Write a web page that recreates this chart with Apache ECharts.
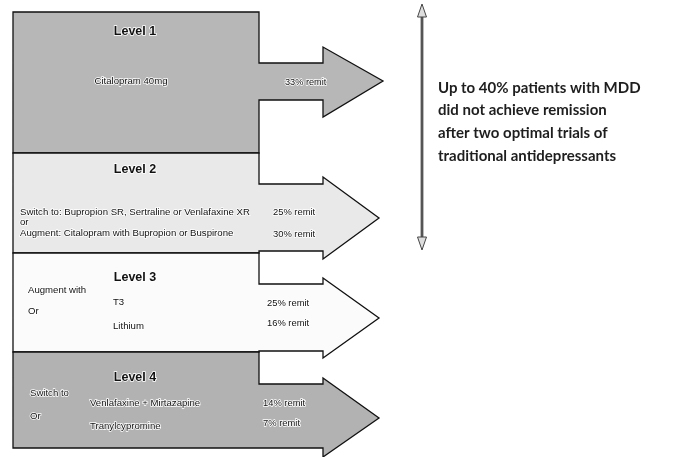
<!DOCTYPE html>
<html><head><meta charset="utf-8">
<script src="https://cdn.jsdelivr.net/npm/echarts@6/dist/echarts.min.js"></script>
<style>html,body{margin:0;padding:0;background:#fff}#c{width:682px;height:457px}</style>
</head><body><div id="c"></div>
<script>
// ---- data ----
const levels = ['Level 1', 'Level 2', 'Level 3', 'Level 4'];
const strategies = ['', '', 'Augment with', 'Switch to'];
const level1Treatments = ['Citalopram 40mg'];
const level2Treatments = ['Switch to: Bupropion SR, Sertraline or Venlafaxine XR', 'Augment: Citalopram with Bupropion or Buspirone'];
const level3Treatments = ['T3', 'Lithium'];
const level4Treatments = ['Venlafaxine + Mirtazapine', 'Tranylcypromine'];
const level1Remit = [33];
const level2Remit = [25, 30];
const level3Remit = [25, 16];
const level4Remit = [14, 7];
const sideNote = ['Up to 40% patients with MDD', 'did not achieve remission', 'after two optimal trials of', 'traditional antidepressants'];

const treatments = [level1Treatments, level2Treatments, level3Treatments, level4Treatments];
const remits = [level1Remit, level2Remit, level3Remit, level4Remit];

// ---- layout (pixel-space coordinates on hidden axes) ----
const layout = [
  {top: 12, bottom: 153, sTop: 63, sBot: 100, hTop: 47, hBot: 117, tx: 383, ty: 81, fill: '#b7b7b7'},
  {top: 153, bottom: 253, sTop: 184, sBot: 251, hTop: 177, hBot: 259, tx: 379, ty: 218, fill: '#e9e9e9'},
  {top: 253, bottom: 352, sTop: 284, sBot: 351, hTop: 278, hBot: 358, tx: 379, ty: 318, fill: '#fbfbfb'},
  {top: 352, bottom: 448, sTop: 384, sBot: 448, hTop: 378, hBot: 457, tx: 379, ty: 418, fill: '#b2b2b2'}
];
const X0 = 13, X1 = 259, HX = 323;
const FS = 9.6;

const txt = (x, y, s, size, weight, align) => ({
  type: 'text',
  x: x, y: y,
  style: {
    text: s, fill: '#111', font: (weight || 'normal') + ' ' + size + 'px "Liberation Sans", Arial, sans-serif',
    textAlign: align || 'left', textVerticalAlign: 'middle',
    stroke: '#fff', lineWidth: 1.5
  }
});

function renderLevel(params, api) {
  const i = api.value(0);
  const L = layout[i];
  const P = (x, y) => api.coord([x, y]);
  const pts = [
    P(X0, L.top), P(X1, L.top), P(X1, L.sTop), P(HX, L.sTop), P(HX, L.hTop), P(L.tx, L.ty),
    P(HX, L.hBot), P(HX, L.sBot), P(X1, L.sBot), P(X1, L.bottom), P(X0, L.bottom)
  ];
  const children = [{
    type: 'polygon',
    shape: {points: pts},
    style: {fill: L.fill, stroke: '#111', lineWidth: 1.3}
  }];
  const t = treatments[i], r = remits[i];
  const c = P(135, 0)[0];
  if (i === 0) {
    children.push(txt(c, P(0, 32)[1], levels[i], 12.5, 'bold', 'center'));
    children.push(txt(131, P(0, 81)[1], t[0], FS, 'normal', 'center'));
    children.push(txt(285, P(0, 82)[1], r[0] + '% remit', 9.2));
  } else if (i === 1) {
    children.push(txt(c, P(0, 170)[1], levels[i], 12.5, 'bold', 'center'));
    children.push(txt(20, P(0, 212)[1], t[0], FS));
    children.push(txt(20, P(0, 222)[1], 'or', FS));
    children.push(txt(20, P(0, 233)[1], t[1], FS));
    children.push(txt(273, P(0, 212)[1], r[0] + '% remit', 9.4));
    children.push(txt(273, P(0, 234)[1], r[1] + '% remit', 9.4));
  } else if (i === 2) {
    children.push(txt(c, P(0, 278)[1], levels[i], 12.5, 'bold', 'center'));
    children.push(txt(28, P(0, 290)[1], strategies[i], FS));
    children.push(txt(28, P(0, 311)[1], 'Or', FS));
    children.push(txt(113, P(0, 302)[1], t[0], FS));
    children.push(txt(113, P(0, 326)[1], t[1], FS));
    children.push(txt(267, P(0, 303)[1], r[0] + '% remit', 9.4));
    children.push(txt(267, P(0, 323)[1], r[1] + '% remit', 9.4));
  } else {
    children.push(txt(c, P(0, 378)[1], levels[i], 12.5, 'bold', 'center'));
    children.push(txt(30, P(0, 393)[1], strategies[i], FS));
    children.push(txt(30, P(0, 416)[1], 'Or', FS));
    children.push(txt(90, P(0, 403)[1], t[0], FS));
    children.push(txt(90, P(0, 426)[1], t[1], FS));
    children.push(txt(263, P(0, 403)[1], r[0] + '% remit', 9.4));
    children.push(txt(263, P(0, 423)[1], r[1] + '% remit', 9.4));
  }
  return {type: 'group', children: children};
}

function renderSide(params, api) {
  const P = (x, y) => api.coord([x, y]);
  const a = P(422, 4), b = P(422, 250);
  const ch = [
    {type: 'line', shape: {x1: a[0], y1: a[1] + 6, x2: b[0], y2: b[1] - 6}, style: {stroke: '#555', lineWidth: 2.8}},
    {type: 'polygon', shape: {points: [[a[0], a[1]], [a[0] - 4.5, a[1] + 13], [a[0] + 4.5, a[1] + 13]]}, style: {fill: '#ddd', stroke: '#444', lineWidth: 1}},
    {type: 'polygon', shape: {points: [[b[0], b[1]], [b[0] - 4.5, b[1] - 13], [b[0] + 4.5, b[1] - 13]]}, style: {fill: '#ddd', stroke: '#444', lineWidth: 1}}
  ];
  sideNote.forEach((s, k) => {
    const p = P(438, 88 + k * 22.6);
    ch.push({type: 'text', x: p[0], y: p[1], style: {text: s, fill: '#1e1e1e', font: 'bold 15px Lato, "Noto Sans", sans-serif', textVerticalAlign: 'middle'}});
  });
  return {type: 'group', children: ch};
}

const chart = echarts.init(document.getElementById('c'));
chart.setOption({
  animation: false,
  grid: {left: 0, right: 0, top: 0, bottom: 0},
  xAxis: {type: 'value', min: 0, max: 682, show: false},
  yAxis: {type: 'value', min: 0, max: 457, inverse: true, show: false},
  series: [
    {type: 'custom', renderItem: renderLevel, data: levels.map((l, i) => [i]), silent: true},
    {type: 'custom', renderItem: renderSide, data: [[0]], silent: true}
  ]
});
</script></body></html>
